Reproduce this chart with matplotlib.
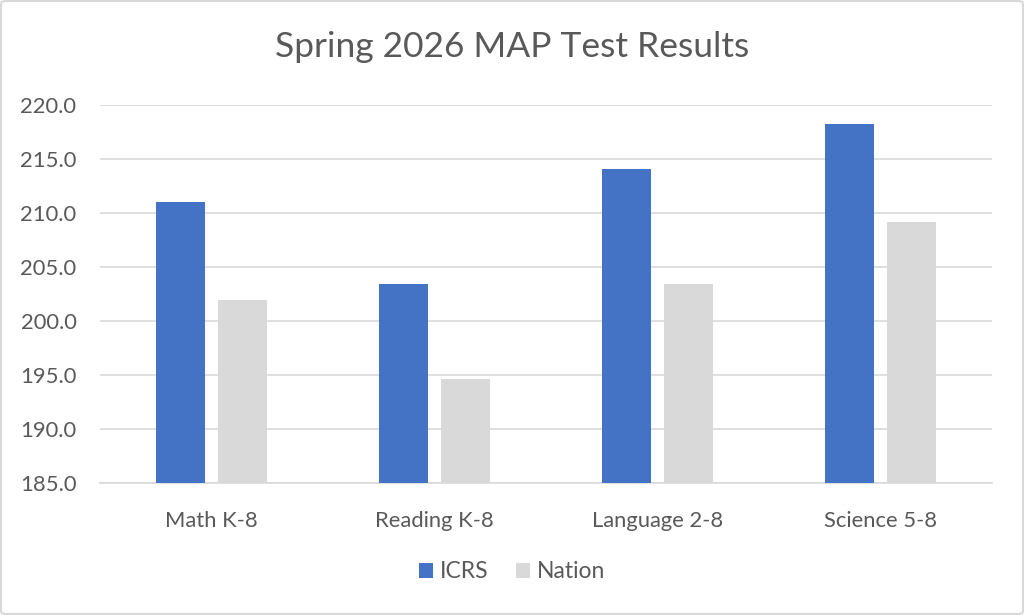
import matplotlib
matplotlib.use("Agg")
import matplotlib.pyplot as plt
import numpy as np
from matplotlib.patches import FancyBboxPatch

categories = ["Math K-8", "Reading K-8", "Language 2-8", "Science 5-8"]
icrs = [211.0, 203.4, 214.1, 218.2]
nation = [201.9, 194.6, 203.4, 209.2]
yticks = [185.0, 190.0, 195.0, 200.0, 205.0, 210.0, 215.0, 220.0]

plt.rcParams['font.family'] = ['Lato', 'DejaVu Sans']
txt = '#595959'

fig = plt.figure(figsize=(10.24, 6.15), dpi=100)
ax = fig.add_axes([100/1024, 1-483/615, 892/1024, (483-105)/615])

x = np.arange(len(categories))
w = 0.22
ax.bar(x - 0.141, icrs, w, color='#4472C4', label='ICRS', zorder=3)
ax.bar(x + 0.141, nation, w, color='#D9D9D9', label='Nation', zorder=3)

ax.set_xlim(-0.5, len(categories) - 0.5)
ax.set_ylim(185, 220)
ax.set_yticks(yticks)
ax.set_yticklabels([f"{v:.1f}" for v in yticks], fontsize=15.8, color=txt)
ax.set_xticks(x)
ax.set_xticklabels(categories, fontsize=15.8, color=txt)
ax.tick_params(axis='both', length=0)
ax.tick_params(axis='y', pad=17)
ax.tick_params(axis='x', pad=20)
ax.grid(axis='y', color='#D9D9D9', linewidth=1.2, zorder=0)
for s in ['top', 'right', 'left']:
    ax.spines[s].set_visible(False)
ax.spines['bottom'].set_color('#D9D9D9')
ax.spines['bottom'].set_linewidth(1.2)

fig.text(0.5, 1-47/615, "Spring 2026 MAP Test Results", ha='center', va='center',
         fontsize=25.5, color=txt)

leg = fig.legend(loc='center', bbox_to_anchor=(0.5, 1-572/615), ncol=2, frameon=False,
                 fontsize=16.5, handlelength=0.6, handleheight=0.6, columnspacing=1.2,
                 handletextpad=0.3)
for t in leg.get_texts():
    t.set_color(txt)

border = FancyBboxPatch((1/1024, 1/615), 1022/1024, 613/615, boxstyle='round,pad=0,rounding_size=0.005',
                        transform=fig.transFigure, fill=False, edgecolor='#D9D9D9', linewidth=1.5)
fig.patches.append(border)

fig.savefig("out.png", dpi=100)
